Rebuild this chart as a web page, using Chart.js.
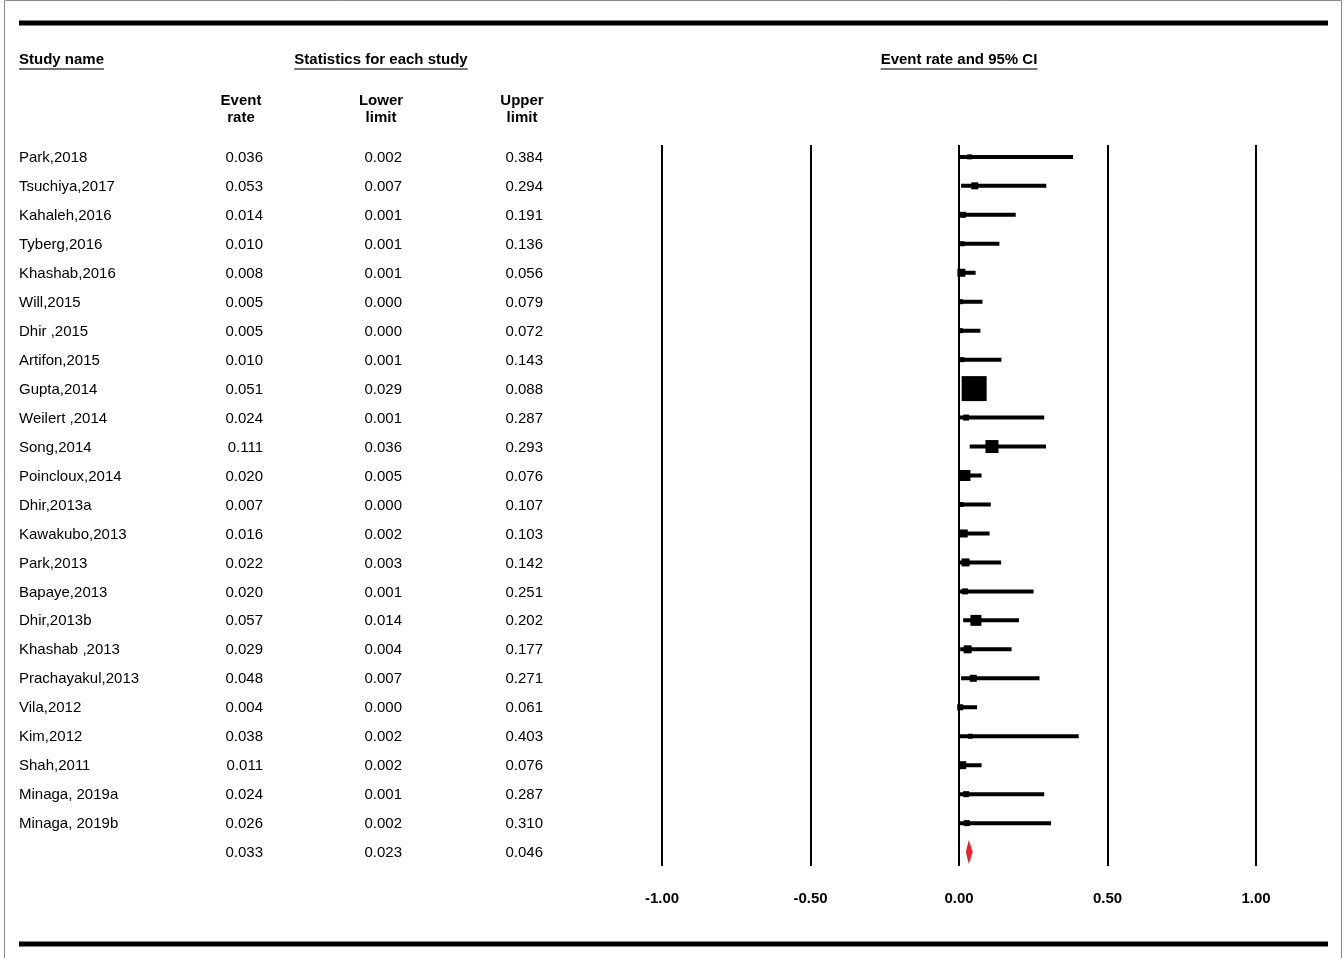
<!DOCTYPE html>
<html>
<head>
<meta charset="utf-8">
<script src="https://cdn.jsdelivr.net/npm/chart.js@4.4.0/dist/chart.umd.min.js"></script>
<style>
    html, body { margin: 0; padding: 0; background: #fff; }
    #wrap { width: 1343px; height: 958px; position: relative; }
</style>
</head>
<body>
<div id="wrap"><canvas id="forestChart" width="1343" height="958"></canvas></div>
<script>
// Study rows, top to bottom
const studies = [
    'Park,2018', 'Tsuchiya,2017', 'Kahaleh,2016', 'Tyberg,2016', 'Khashab,2016',
    'Will,2015', 'Dhir ,2015', 'Artifon,2015', 'Gupta,2014', 'Weilert ,2014',
    'Song,2014', 'Poincloux,2014', 'Dhir,2013a', 'Kawakubo,2013', 'Park,2013',
    'Bapaye,2013', 'Dhir,2013b', 'Khashab ,2013', 'Prachayakul,2013', 'Vila,2012',
    'Kim,2012', 'Shah,2011', 'Minaga, 2019a', 'Minaga, 2019b'
];
const eventRate = [
    0.036, 0.053, 0.014, 0.010, 0.008, 0.005, 0.005, 0.010, 0.051, 0.024,
    0.111, 0.020, 0.007, 0.016, 0.022, 0.020, 0.057, 0.029, 0.048, 0.004,
    0.038, 0.011, 0.024, 0.026
];
const lowerLimit = [
    0.002, 0.007, 0.001, 0.001, 0.001, 0.000, 0.000, 0.001, 0.029, 0.001,
    0.036, 0.005, 0.000, 0.002, 0.003, 0.001, 0.014, 0.004, 0.007, 0.000,
    0.002, 0.002, 0.001, 0.002
];
const upperLimit = [
    0.384, 0.294, 0.191, 0.136, 0.056, 0.079, 0.072, 0.143, 0.088, 0.287,
    0.293, 0.076, 0.107, 0.103, 0.142, 0.251, 0.202, 0.177, 0.271, 0.061,
    0.403, 0.076, 0.287, 0.310
];
// relative weights (%), estimated from the square sizes
const weights = [
    1.35, 2.65, 1.95, 1.35, 3.46, 1.35, 1.35, 1.35, 33.8, 1.95,
    9.15, 6.55, 1.35, 3.46, 3.46, 1.95, 6.55, 3.46, 2.65, 1.95,
    1.35, 3.46, 1.95, 1.95
];
// pooled estimate: event rate, lower, upper
const pooled = [0.033, 0.023, 0.046];
const xTicks = [-1.0, -0.5, 0.0, 0.5, 1.0];

const FONT = '"Liberation Sans", Arial, Helvetica, sans-serif';
const summaryRow = studies.length;

// CI segments, separated by gaps
const ciPoints = [];
studies.forEach((s, i) => {
    ciPoints.push({ x: lowerLimit[i], y: i });
    ciPoints.push({ x: upperLimit[i], y: i });
    ciPoints.push({ x: null, y: null });
});

const tablePlugin = {
    id: 'forestTable',
    beforeDraw(chart) {
        const ctx = chart.ctx;
        ctx.save();
        ctx.fillStyle = '#fff';
        ctx.fillRect(0, 0, chart.width, chart.height);
        // thin frame
        ctx.strokeStyle = '#888';
        ctx.lineWidth = 1;
        ctx.beginPath();
        ctx.moveTo(4.5, 958);
        ctx.lineTo(4.5, 0.5);
        ctx.lineTo(1341.5, 0.5);
        ctx.lineTo(1341.5, 958);
        ctx.stroke();
        // heavy rules
        ctx.fillStyle = '#000';
        ctx.fillRect(19, 20.5, 1309, 5);
        ctx.fillRect(19, 941.5, 1309, 5);
        ctx.restore();
    },
    afterDatasetsDraw(chart) {
        const ctx = chart.ctx;
        const xs = chart.scales.x;
        const ys = chart.scales.y;

        // summary diamond
        const yc = ys.getPixelForValue(summaryRow);
        const xm = xs.getPixelForValue(pooled[0]);
        const xl = xs.getPixelForValue(pooled[1]);
        const xr = xs.getPixelForValue(pooled[2]);
        ctx.save();
        ctx.fillStyle = '#e8212a';
        ctx.beginPath();
        ctx.moveTo(xl, yc);
        ctx.lineTo(xm, yc - 12);
        ctx.lineTo(xr, yc);
        ctx.lineTo(xm, yc + 12);
        ctx.closePath();
        ctx.fill();
        ctx.restore();
    },
    afterDraw(chart) {
        const ctx = chart.ctx;
        const ys = chart.scales.y;
        ctx.save();
        ctx.fillStyle = '#000';
        ctx.textBaseline = 'middle';

        // headers
        ctx.font = 'bold 15px ' + FONT;
        const underline = (text, x, y, align) => {
            ctx.textAlign = align;
            ctx.fillText(text, x, y);
            const w = ctx.measureText(text).width;
            const x0 = align === 'center' ? x - w / 2 : x;
            ctx.save();
            ctx.strokeStyle = '#444';
            ctx.lineWidth = 1.5;
            ctx.beginPath();
            ctx.moveTo(x0, y + 9);
            ctx.lineTo(x0 + w, y + 9);
            ctx.stroke();
            ctx.restore();
        };
        underline('Study name', 19, 60, 'left');
        underline('Statistics for each study', 381, 60, 'center');
        underline('Event rate and 95% CI', 959, 60, 'center');

        ctx.textAlign = 'center';
        [['Event', 'rate', 241], ['Lower', 'limit', 381], ['Upper', 'limit', 522]].forEach(h => {
            ctx.fillText(h[0], h[2], 101);
            ctx.fillText(h[1], h[2], 118);
        });

        // rows
        ctx.font = '15px ' + FONT;
        studies.forEach((name, i) => {
            const y = ys.getPixelForValue(i) + 1;
            ctx.textAlign = 'left';
            ctx.fillText(name, 19, y);
            ctx.textAlign = 'right';
            ctx.fillText(eventRate[i].toFixed(3), 263, y);
            ctx.fillText(lowerLimit[i].toFixed(3), 402, y);
            ctx.fillText(upperLimit[i].toFixed(3), 543, y);
        });
        const ySum = ys.getPixelForValue(summaryRow) + 1;
        ctx.textAlign = 'right';
        ctx.fillText(pooled[0].toFixed(3), 263, ySum);
        ctx.fillText(pooled[1].toFixed(3), 402, ySum);
        ctx.fillText(pooled[2].toFixed(3), 543, ySum);
        ctx.restore();
    }
};

const ctx = document.getElementById('forestChart').getContext('2d');
new Chart(ctx, {
    type: 'scatter',
    data: {
        datasets: [{
            label: 'Event rate',
            data: eventRate.map((v, i) => ({ x: v, y: i })),
            pointStyle: 'rect',
            pointRadius: weights.map(w => 4.3 * Math.sqrt(w) / Math.SQRT2),
            backgroundColor: '#000',
            borderWidth: 0,
            order: 0
        }, {
            label: '95% CI',
            data: ciPoints,
            showLine: true,
            spanGaps: false,
            borderColor: '#000',
            borderWidth: 4,
            borderCapStyle: 'butt',
            pointRadius: 0,
            fill: false,
            order: 1
        }]
    },
    plugins: [tablePlugin],
    options: {
        responsive: false,
        devicePixelRatio: 1,
        animation: false,
        events: [],
        layout: {
            padding: { left: 662, right: 87, top: 145, bottom: 42 }
        },
        plugins: {
            legend: { display: false },
            tooltip: { enabled: false },
            title: { display: false }
        },
        scales: {
            x: {
                type: 'linear',
                position: 'bottom',
                min: -1,
                max: 1,
                afterBuildTicks: function(scale) {
                    scale.ticks = xTicks.map(v => ({ value: v }));
                },
                afterFit: function(scale) {
                    scale.height = 50;
                },
                ticks: {
                    color: '#000',
                    padding: 24,
                    font: { family: FONT, size: 15, weight: 'bold' },
                    callback: function(value) {
                        return value.toFixed(2);
                    }
                },
                grid: {
                    color: '#000',
                    lineWidth: 2,
                    drawTicks: false
                },
                border: { display: false }
            },
            y: {
                type: 'linear',
                display: false,
                reverse: true,
                min: -0.41,
                max: 24.48
            }
        }
    }
});
</script>
</body>
</html>
